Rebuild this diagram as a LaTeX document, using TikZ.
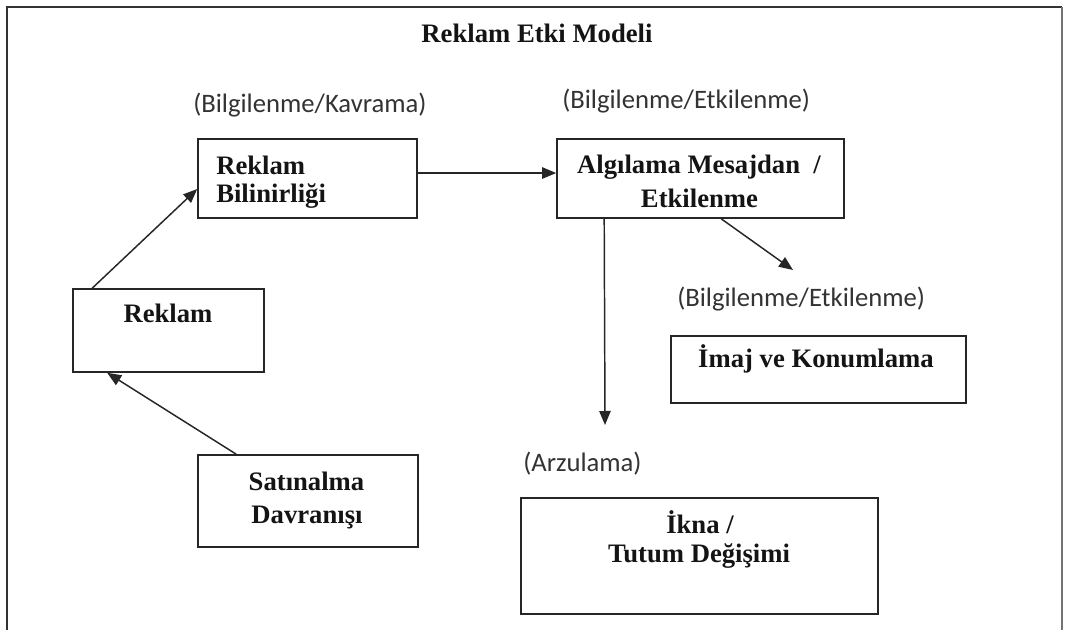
\documentclass[tikz,border=0pt]{standalone}
\usepackage{fontspec}
\setmainfont{Liberation Serif}
\newfontfamily\lblfont{Carlito}
\usetikzlibrary{arrows.meta}
\begin{document}
\begin{tikzpicture}[x=0.75pt,y=-0.75pt,
  box/.style={draw=black!85, line width=1.2pt, rectangle, inner sep=0pt},
  btxt/.style={font=\fontsize{20}{22}\selectfont\bfseries, text=black!92, inner sep=0pt, anchor=base},
  lbl/.style={font=\lblfont\fontsize{20}{22}\selectfont, text=black!80, inner sep=0pt, anchor=base west},
  arr/.style={draw=black!85, line width=1.1pt, -{Triangle[length=10.5pt,width=8.5pt]}}]

\useasboundingbox (0,0) rectangle (1066,630);
\fill[white] (0,0) rectangle (1066,630);

% outer frame (open at the bottom)
\draw[black!80, line width=1.3pt] (7,630) -- (7,7) -- (1062,7);
\draw[black!55, line width=0.8pt] (1062,7) -- (1062,630);

% title
\node[btxt] (title) at (537,43) {Reklam Etki Modeli};

% boxes
\node[box, minimum width=164.25pt, minimum height=59.25pt] (bil) at (307.5,178.5) {};
\node[box, minimum width=143.25pt, minimum height=62.25pt] (rk) at (168.5,330.5) {};
\node[box, minimum width=215.25pt, minimum height=59.25pt] (alg) at (700.5,178.5) {};
\node[box, minimum width=221.25pt, minimum height=50.25pt] (img) at (818.5,369.5) {};
\node[box, minimum width=267.75pt, minimum height=87pt] (ikna) at (699.5,556) {};
\node[box, minimum width=165pt, minimum height=69pt] (sat) at (308,501) {};

% box texts
\node[btxt, anchor=base west] (bilt1) at (216,175) {Reklam};
\node[btxt, anchor=base west] (bilt2) at (216,203) {Bilinirliği};
\node[btxt] (rkt) at (168,323) {Reklam};
\node[btxt] (algt1) at (699,174) {Algılama Mesajdan\ \ /};
\node[btxt] (algt2) at (699.5,208) {Etkilenme};
\node[btxt] (imgt) at (816,368) {İmaj ve Konumlama};
\node[btxt] (iknat1) at (700,533) {İkna /};
\node[btxt] (iknat2) at (699,562) {Tutum Değişimi};
\node[btxt] (satt1) at (306.5,490) {Satınalma};
\node[btxt] (satt2) at (307,523) {Davranışı};

% labels
\node[lbl] (l1) at (193,113) {(Bilgilenme/Kavrama)};
\node[lbl] (l2) at (562,109) {(Bilgilenme/Etkilenme)};
\node[lbl] (l3) at (677,307) {(Bilgilenme/Etkilenme)};
\node[lbl] (l4) at (523,471) {(Arzulama)};

% connectors
\coordinate (downend) at (605,425);
\coordinate (diagend) at (793,270);
\draw[arr] ([xshift=15pt]rk.north west) -- ([yshift=-7.9pt]bil.west);
\draw[arr] ([xshift=29.25pt]sat.north west) -- ([xshift=26.25pt]rk.south west);
\draw[arr] ([yshift=4.1pt]bil.east) -- ([yshift=4.1pt]alg.west);
\draw[arr] ([xshift=36pt]alg.south west) -- (downend);
\draw[arr] ([xshift=123.75pt]alg.south west) -- (diagend);
\end{tikzpicture}
\end{document}
